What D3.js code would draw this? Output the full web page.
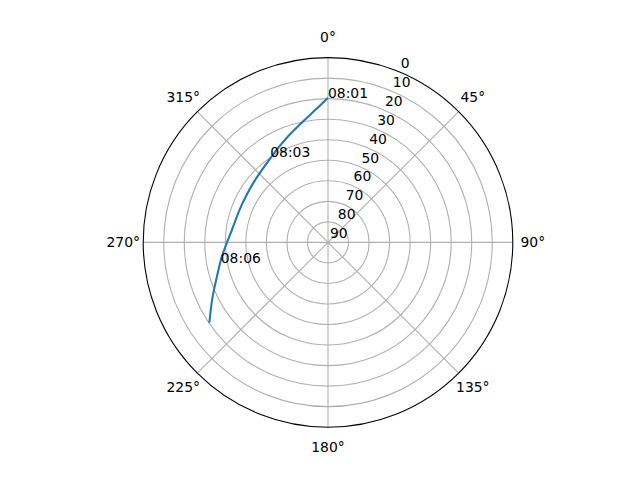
<!DOCTYPE html>
<html>
<head>
<meta charset="utf-8">
<script src="https://cdn.jsdelivr.net/npm/d3@7"></script>
<style>
  body { margin: 0; background: #fff; }
  svg { display: block; font-family: "DejaVu Sans", sans-serif; }
</style>
</head>
<body>
<div id="chart"></div>
<script>
// pass track: azimuth (deg, clockwise from N) and elevation (deg)
const azimuth = [0, 355.2, 348.4, 340.2, 333.8, 327.2, 318.9, 308.4, 298, 290.2, 277.3, 270, 262.3, 252.9, 244.8, 235.9];
const elevation = [19.5, 24.6, 29.8, 34.4, 37.3, 39.8, 42.0, 43.5, 44.2, 44.1, 42.8, 40.8, 37.8, 33.4, 27.9, 20.2];

const timeLabels = ['08:01', '08:03', '08:06'];
const timeAz = [0, 326, 259];
const timeEl = [19.7, 39.7, 36.8];

const radialTicks = [0, 10, 20, 30, 40, 50, 60, 70, 80, 90];
const angleTicks = [0, 45, 90, 135, 180, 225, 270, 315];

const width = 640;
const height = 480;
const cx = 328;
const cy = 242.4;
const R = 184.8;

const svg = d3.select('#chart').append('svg')
    .attr('width', width)
    .attr('height', height);

const r = d3.scaleLinear().domain([90, 0]).range([0, R]);
const rad = d => d * Math.PI / 180;

const g = svg.append('g').attr('transform', `translate(${cx},${cy})`);

// grid circles
g.append('g')
    .selectAll('circle')
    .data(radialTicks.filter(t => t > 0 && t < 90))
    .enter()
    .append('circle')
    .attr('r', d => r(d))
    .attr('fill', 'none')
    .attr('stroke', '#b0b0b0')
    .attr('stroke-width', 1.1);

// spokes
g.append('g')
    .selectAll('line')
    .data(angleTicks)
    .enter()
    .append('line')
    .attr('x1', 0)
    .attr('y1', 0)
    .attr('x2', d => R * Math.sin(rad(d)))
    .attr('y2', d => -R * Math.cos(rad(d)))
    .attr('stroke', '#b0b0b0')
    .attr('stroke-width', 1.1);

// outer spine
g.append('circle')
    .attr('r', r(0))
    .attr('fill', 'none')
    .attr('stroke', '#000')
    .attr('stroke-width', 1.1);

// angle labels
g.append('g')
    .selectAll('text')
    .data(angleTicks)
    .enter()
    .append('text')
    .attr('x', d => (R + 20) * Math.sin(rad(d)))
    .attr('y', d => -(R + 20) * Math.cos(rad(d)))
    .attr('text-anchor', 'middle')
    .attr('dy', '0.35em')
    .attr('font-size', '13.9px')
    .attr('fill', '#000')
    .text(d => d + '°');

// radial labels at 22.5°
g.append('g')
    .selectAll('text')
    .data(radialTicks)
    .enter()
    .append('text')
    .attr('x', d => r(d) * Math.sin(rad(22.5)) + 2)
    .attr('y', d => -r(d) * Math.cos(rad(22.5)) - 4)
    .attr('font-size', '13.9px')
    .attr('fill', '#000')
    .text(d => d);

// track
const track = azimuth.map((a, i) => ({ az: a, el: elevation[i] }));
const line = d3.lineRadial()
    .angle(d => rad(d.az > 180 ? d.az - 360 : d.az))
    .radius(d => r(d.el))
    .curve(d3.curveCatmullRom);

g.append('path')
    .datum(track)
    .attr('d', line)
    .attr('fill', 'none')
    .attr('stroke', '#1f77b4')
    .attr('stroke-width', 2.08);

// time annotations
g.append('g')
    .selectAll('text')
    .data(timeLabels)
    .enter()
    .append('text')
    .attr('x', (d, i) => r(timeEl[i]) * Math.sin(rad(timeAz[i])))
    .attr('y', (d, i) => -r(timeEl[i]) * Math.cos(rad(timeAz[i])))
    .attr('font-size', '13.9px')
    .attr('fill', '#000')
    .text(d => d);
</script>
</body>
</html>
